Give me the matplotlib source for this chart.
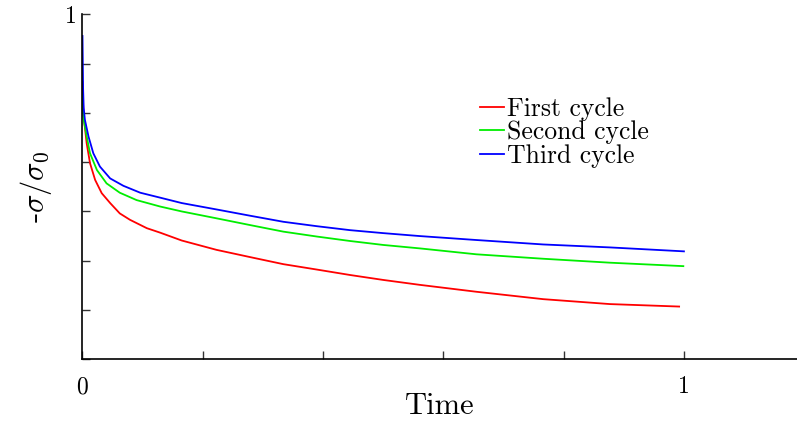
import numpy as np
import matplotlib
matplotlib.use("Agg")
import matplotlib.pyplot as plt

plt.rcParams['font.family'] = ['cmr10', 'DejaVu Serif']
plt.rcParams['mathtext.fontset'] = 'cm'
plt.rcParams['axes.unicode_minus'] = False

# values (time, -sigma/sigma0)
t_first = [0.0, 0.0005, 0.002, 0.007, 0.0125, 0.021, 0.032, 0.046, 0.062, 0.079,
           0.107, 0.129, 0.165, 0.223, 0.28, 0.334, 0.39, 0.445, 0.50, 0.561,
           0.655, 0.766, 0.877, 0.992]
s_first = [0.863, 0.83, 0.792, 0.738, 0.698, 0.664, 0.637, 0.617, 0.596, 0.583,
           0.566, 0.557, 0.541, 0.522, 0.507, 0.493, 0.482, 0.471, 0.461, 0.451,
           0.437, 0.422, 0.412, 0.407]

t_second = [0.0, 0.0005, 0.002, 0.007, 0.0125, 0.024, 0.040, 0.062, 0.090, 0.129,
            0.165, 0.223, 0.28, 0.334, 0.39, 0.445, 0.50, 0.561, 0.655, 0.766,
            0.877, 0.999]
s_second = [0.838, 0.81, 0.786, 0.752, 0.718, 0.684, 0.657, 0.638, 0.623, 0.610,
            0.600, 0.586, 0.572, 0.559, 0.549, 0.540, 0.532, 0.525, 0.513, 0.504,
            0.496, 0.489]

t_third = [0.0, 0.001, 0.002, 0.004, 0.01, 0.018, 0.029, 0.046, 0.068, 0.096,
           0.129, 0.165, 0.223, 0.28, 0.334, 0.39, 0.445, 0.50, 0.561, 0.655,
           0.766, 0.877, 1.0]
s_third = [0.956, 0.85, 0.81, 0.786, 0.752, 0.718, 0.691, 0.667, 0.652, 0.638,
           0.628, 0.617, 0.604, 0.591, 0.579, 0.570, 0.562, 0.556, 0.550, 0.542,
           0.533, 0.527, 0.519]

xticks = [0, 0.2, 0.4, 0.6, 0.8, 1.0]
xticklabels = ['0', '', '', '', '', '1']
yticks = [0.3, 0.4, 0.5, 0.6, 0.7, 0.8, 0.9, 1.0]
yticklabels = ['', '', '', '', '', '', '', '1']

fig = plt.figure(figsize=(7.97, 4.21), dpi=100)
ax = fig.add_axes([0.1035, 0.1466, 0.8965, 0.8194])

ax.plot(t_first, s_first, color='#ff0000', lw=1.3, label='First cycle')
ax.plot(t_second, s_second, color='#00ee00', lw=1.3, label='Second cycle')
ax.plot(t_third, s_third, color='#0000ff', lw=1.3, label='Third cycle')

ax.set_xlim(0, 1.188)
ax.set_ylim(0.3, 1.0)
ax.set_xticks(xticks)
ax.set_xticklabels(xticklabels)
ax.set_yticks(yticks)
ax.set_yticklabels(yticklabels)
ax.tick_params(direction='in', length=6, width=1, labelsize=17, pad=12,
               color='#333333')
ax.tick_params(axis='y', pad=4)

for s in ['top', 'right']:
    ax.spines[s].set_visible(False)
for s in ['left', 'bottom']:
    ax.spines[s].set_linewidth(1.2)

ax.set_xlabel('Time', fontsize=22, labelpad=-4)
ax.set_ylabel(r'-$\sigma/\sigma_0$', fontsize=22, labelpad=8)

ax.legend(loc='upper left', bbox_to_anchor=(0.539, 0.798), frameon=False,
          fontsize=18.5, handlelength=0.9, handletextpad=0.15,
          labelspacing=0.0, borderpad=0)

fig.savefig('out.png', dpi=100)
